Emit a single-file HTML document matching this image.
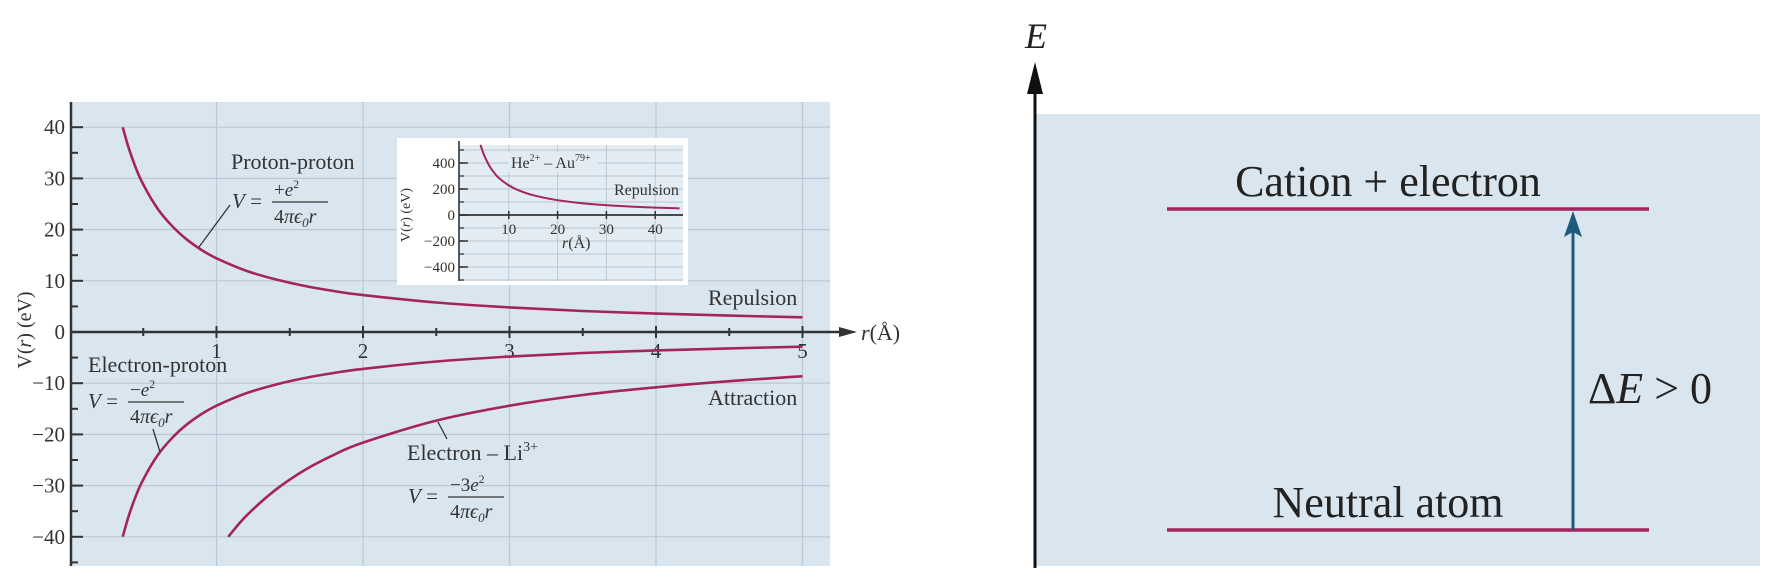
<!DOCTYPE html>
<html><head><meta charset="utf-8"><style>
html,body{margin:0;padding:0;background:#fff;}
svg{display:block;font-family:"Liberation Serif",serif;}
</style></head><body>
<svg id="fig" width="1779" height="577" viewBox="0 0 1779 577">
<g id="left"></g>
<g id="inset"></g>
<g id="right"></g>
</svg>
<script>
// ---- main chart data ----
const ppR = [0.36,0.4,0.45,0.5,0.6,0.7,0.8,0.9,1,1.2,1.4,1.6,1.8,2,2.5,3,3.5,4,4.5,5];
const ppV = [40,36,32,28.8,24,20.6,18,16,14.4,12,10.3,9,8,7.2,5.76,4.8,4.11,3.6,3.2,2.88];
const epR = [0.36,0.4,0.45,0.5,0.6,0.7,0.8,0.9,1,1.2,1.4,1.6,1.8,2,2.5,3,3.5,4,4.5,5];
const epV = [-40,-36,-32,-28.8,-24,-20.6,-18,-16,-14.4,-12,-10.3,-9,-8,-7.2,-5.76,-4.8,-4.11,-3.6,-3.2,-2.88];
const liR = [1.08,1.2,1.4,1.6,1.8,2,2.5,3,3.5,4,4.5,5];
const liV = [-40,-36,-30.9,-27,-24,-21.6,-17.3,-14.4,-12.3,-10.8,-9.6,-8.64];
const yTicks = [40,30,20,10,0,-10,-20,-30,-40];
const yTickLabels = ["40","30","20","10","0","\u221210","\u221220","\u221230","\u221240"];
const xTicks = [1,2,3,4,5];
const xTickLabels = ["1","2","3","4","5"];
// ---- inset data ----
const inR = [4.2,5,6,7,8,10,12,15,20,25,30,35,40,45];
const inV = [540,455,379,325,284,228,190,152,114,91,76,65,57,51];
const inYTicks = [400,200,0,-200,-400];
const inYTickLabels = ["400","200","0","\u2212200","\u2212400"];
const inXTicks = [10,20,30,40];
const inXTickLabels = ["10","20","30","40"];
// ---- energy diagram data ----
const levelNames = ["Neutral atom","Cation + electron"];
const levelE = [0, 1];

const NS="http://www.w3.org/2000/svg";
function mk(parent,tag,attrs,text){const e=document.createElementNS(NS,tag);for(const k in attrs)e.setAttribute(k,attrs[k]);if(text!==undefined)e.textContent=text;parent.appendChild(e);return e;}
function smooth(pts){let d="M"+pts[0][0].toFixed(1)+","+pts[0][1].toFixed(1);
 for(let i=0;i<pts.length-1;i++){const p0=pts[Math.max(0,i-1)],p1=pts[i],p2=pts[i+1],p3=pts[Math.min(pts.length-1,i+2)];
  const c1=[p1[0]+(p2[0]-p0[0])/6,p1[1]+(p2[1]-p0[1])/6],c2=[p2[0]-(p3[0]-p1[0])/6,p2[1]-(p3[1]-p1[1])/6];
  d+=" C"+c1.map(v=>v.toFixed(1)).join(",")+" "+c2.map(v=>v.toFixed(1)).join(",")+" "+p2.map(v=>v.toFixed(1)).join(",");}
 return d;}
const CURVE="#a3245f", GRID="#b9c8d4", BG="#dae6ef", INK="#333";

// ===== main chart =====
const L=document.getElementById('left');
const X=r=>70+r*146.5, Y=v=>332-v*5.12;
const pl=71,pr=830,pt=102,pb=566;
let e=mk(L,'rect',{x:pl,y:pt,width:pr-pl,height:pb-pt,fill:BG});


yTicks.forEach((v,i)=>{
 let g=mk(L,'line',{x1:pl,x2:pr,y1:Y(v),y2:Y(v),stroke:GRID,'stroke-width':1.2});
 
 
 let t=mk(L,'line',{x1:pl,x2:pl+12,y1:Y(v),y2:Y(v),stroke:INK,'stroke-width':2});
 
 
 let m=mk(L,'line',{x1:pl,x2:pl+7,y1:Y(v-5),y2:Y(v-5),stroke:INK,'stroke-width':2});
 
 
 let lb=mk(L,'text',{x:pl-6,y:Y(v)+7,'text-anchor':'end','font-size':21,fill:INK},yTickLabels[i]);
 
 
});
xTicks.forEach((r,i)=>{
 let g=mk(L,'line',{x1:X(r),x2:X(r),y1:pt,y2:pb,stroke:GRID,'stroke-width':1.2});
 
 
 let t=mk(L,'line',{x1:X(r),x2:X(r),y1:Y(0)-6,y2:Y(0)+6,stroke:INK,'stroke-width':2});
 
 
 let m=mk(L,'line',{x1:X(r-0.5),x2:X(r-0.5),y1:Y(0)-4,y2:Y(0)+4,stroke:INK,'stroke-width':2});
 
 
 let lb=mk(L,'text',{x:X(r),y:Y(0)+26,'text-anchor':'middle','font-size':21,fill:INK},xTickLabels[i]);
 
 
});
e=mk(L,'line',{x1:pl,x2:pl,y1:pt,y2:pb,stroke:INK,'stroke-width':2.5});


e=mk(L,'line',{x1:pl,x2:845,y1:Y(0),y2:Y(0),stroke:INK,'stroke-width':2.5});


e=mk(L,'path',{d:`M857,${Y(0)} L839,${Y(0)-5} L839,${Y(0)+5} Z`,fill:INK});


e=mk(L,'text',{x:861,y:Y(0)+8,'font-size':22,fill:INK});
e.innerHTML='<tspan font-style="italic">r</tspan>(Å)';


e=mk(L,'text',{x:0,y:0,'font-size':20,fill:INK,'text-anchor':'middle',transform:'translate(31,330) rotate(-90)'});
e.innerHTML='V(<tspan font-style="italic">r</tspan>) (eV)';


[[ppR,ppV,'proton-proton-curve'],[epR,epV,'electron-proton-curve'],[liR,liV,'electron-li3-curve']].forEach(s=>{
 const p=mk(L,'path',{d:smooth(s[0].map((r,i)=>[X(r),Y(s[1][i])])),fill:'none',stroke:CURVE,'stroke-width':2.6});
 
 
});
function label(par,x,y,html,name,size){const t=mk(par,'text',{x:x,y:y,'font-size':size||22,fill:INK});t.innerHTML=html;return t;}
function frac(par,x,y,num,name){
 label(par,x,y+6,'<tspan font-style="italic">V</tspan> =',name+'-lhs',21);
 label(par,x+42+(num.length>10?0:6),y-6,num,name+'-numerator',19);
 const l=mk(par,'line',{x1:x+40,x2:x+96,y1:y,y2:y,stroke:INK,'stroke-width':1.3});
 
 
 label(par,x+42,y+21,'4<tspan font-style="italic">πϵ</tspan><tspan font-size="13" dy="4" font-style="italic">0</tspan><tspan font-style="italic" dy="-4">r</tspan>',name+'-denominator',20);
}
label(L,231,169,'Proton-proton','proton-proton-label');
frac(L,232,202,'+<tspan font-style="italic">e</tspan><tspan font-size="12" dy="-8">2</tspan>','proton-proton-formula');
label(L,88,372,'Electron-proton','electron-proton-label');
frac(L,88,402,'−<tspan font-style="italic">e</tspan><tspan font-size="12" dy="-8">2</tspan>','electron-proton-formula');
label(L,407,460,'Electron – Li<tspan font-size="14" dy="-9">3+</tspan>','electron-li3-label');
frac(L,408,497,'−3<tspan font-style="italic">e</tspan><tspan font-size="12" dy="-8">2</tspan>','electron-li3-formula');
label(L,708,305,'Repulsion','repulsion-label');
label(L,708,405,'Attraction','attraction-label');
[[230,205,199,247],[153,429,160,452],[438,422,447,439]].forEach(a=>{
 const l=mk(L,'line',{x1:a[0],y1:a[1],x2:a[2],y2:a[3],stroke:INK,'stroke-width':1.3});
 
 
});

// ===== inset =====
const I=document.getElementById('inset');
const IX=r=>460+r*4.88, IY=v=>215-v*0.13;
const il=459,ir=683,itop=145,ib=281;
e=mk(I,'rect',{x:397,y:138,width:291,height:147,fill:'#fff'});


e=mk(I,'rect',{x:il,y:itop,width:ir-il,height:ib-itop,fill:'#e3ecf2'});


for(let v=-500;v<=500;v+=100){
 const g=mk(I,'line',{x1:il,x2:ir,y1:IY(v),y2:IY(v),stroke:GRID,'stroke-width':1});
 
 
 const t=mk(I,'line',{x1:il,x2:il+5,y1:IY(v),y2:IY(v),stroke:INK,'stroke-width':1.3});
 
 
}
inYTicks.forEach((v,i)=>{
 const t=mk(I,'line',{x1:il,x2:il+9,y1:IY(v),y2:IY(v),stroke:INK,'stroke-width':1.5});
 
 
 const lb=mk(I,'text',{x:il-4,y:IY(v)+5,'text-anchor':'end','font-size':15,fill:INK},inYTickLabels[i]);
 
 
});
inXTicks.forEach((r,i)=>{
 const g=mk(I,'line',{x1:IX(r),x2:IX(r),y1:itop,y2:ib,stroke:GRID,'stroke-width':1});
 
 
 const t=mk(I,'line',{x1:IX(r),x2:IX(r),y1:IY(0)-4,y2:IY(0)+4,stroke:INK,'stroke-width':1.5});
 
 
 const lb=mk(I,'text',{x:IX(r),y:IY(0)+19,'text-anchor':'middle','font-size':15,fill:INK},inXTickLabels[i]);
 
 
});
e=mk(I,'line',{x1:il,x2:il,y1:itop-4,y2:ib,stroke:INK,'stroke-width':1.6});


e=mk(I,'line',{x1:il,x2:ir,y1:IY(0),y2:IY(0),stroke:INK,'stroke-width':1.8});


e=mk(I,'path',{d:smooth(inR.map((r,i)=>[IX(r),IY(inV[i])])),fill:'none',stroke:CURVE,'stroke-width':2});


e=mk(I,'rect',{x:508,y:152,width:90,height:20,fill:'#e3ecf2'});


label(I,511,168,'He<tspan font-size="10" dy="-7">2+</tspan><tspan dy="7"> – Au</tspan><tspan font-size="10" dy="-7">79+</tspan>','inset-he-au-label',16);
label(I,614,195,'Repulsion','inset-repulsion-label',16);
label(I,562,248,'<tspan font-style="italic">r</tspan>(Å)','inset-x-axis-title',16);
e=mk(I,'text',{x:0,y:0,'font-size':14,fill:INK,'text-anchor':'middle',transform:'translate(410,215) rotate(-90)'});
e.innerHTML='V(<tspan font-style="italic">r</tspan>) (eV)';



// ===== energy diagram =====
const R=document.getElementById('right');
const EY=v=>530-v*321;
e=mk(R,'rect',{x:1036,y:114,width:724,height:452,fill:BG});


e=mk(R,'line',{x1:1035,x2:1035,y1:80,y2:568,stroke:'#111','stroke-width':3});


e=mk(R,'path',{d:'M1035,62 L1027,94 L1043,94 Z',fill:'#111'});


e=mk(R,'text',{x:1036,y:48,'font-size':36,'font-style':'italic','text-anchor':'middle',fill:'#222'},'E');


levelE.forEach((v,i)=>{
 const l=mk(R,'line',{x1:1167,x2:1649,y1:EY(v),y2:EY(v),stroke:CURVE,'stroke-width':3.5});
 
 
 const t=mk(R,'text',{x:1388,y:EY(v)-13,'font-size':44,'text-anchor':'middle',fill:'#222'},levelNames[i]);
 
 
});
e=mk(R,'line',{x1:1573,x2:1573,y1:EY(levelE[0]),y2:EY(levelE[1])+22,stroke:'#1f5a7e','stroke-width':3});


e=mk(R,'path',{d:`M1573,${EY(levelE[1])+2} L1564,${EY(levelE[1])+28} L1573,${EY(levelE[1])+23} L1582,${EY(levelE[1])+28} Z`,fill:'#1f5a7e'});


e=mk(R,'text',{x:1588,y:403,'font-size':44,fill:'#222'});
e.innerHTML='Δ<tspan font-style="italic">E</tspan> &gt; 0';


</script>
</body></html>
